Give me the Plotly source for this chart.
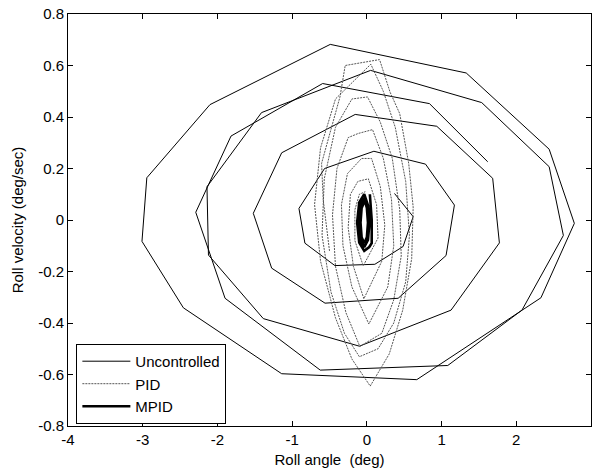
import plotly.graph_objects as go

# ---------------- data ----------------
# Uncontrolled: growing spiral from the centre, plus the outer orbit
unc_x = [0.37, 0.62, 0.485, 0.107, -0.428, -0.829, -0.909, -0.566, 0.094, 0.785,
         1.172, 1.06, 0.419, -0.56, -1.274, -1.52, -1.14, -0.156, 0.936, 1.684,
         1.774, 1.127, -0.1, -1.386, -2.12, -2.14, -1.41, 0.05, 1.537, 2.44,
         2.63, 2.076, 1.083, -0.624, -1.898, -2.29, -1.818, -0.592, 0.838, 1.618,
         None,
         -0.49, 1.33, 2.44, 2.777, 2.33, 0.668, -1.14, -2.456, -3.01, -2.945,
         -2.10, -0.49]
unc_y = [0.103, 0.013, -0.103, -0.172, -0.177, -0.09, 0.045, 0.200, 0.267, 0.217,
         0.058, -0.138, -0.304, -0.323, -0.187, 0.026, 0.261, 0.41, 0.364, 0.162,
         -0.089, -0.35, -0.49, -0.383, -0.136, 0.129, 0.417, 0.581, 0.456, 0.207,
         -0.06, -0.35, -0.565, -0.583, -0.304, 0.03, 0.326, 0.530, 0.452, 0.226,
         None,
         0.682, 0.571, 0.275, -0.013, -0.302, -0.62, -0.597, -0.341, -0.083, 0.164,
         0.448, 0.682]

# PID: narrow decaying spiral
pid_x = [-0.50, -0.584, -0.606, -0.36,
         -0.29, 0.17, 0.31, 0.44, 0.56, 0.62, 0.60, 0.48, 0.30, 0.045,
         -0.20, -0.42, -0.62, -0.70, -0.62, -0.42,
         0.053, 0.22, 0.38, 0.52, 0.57, 0.52, 0.36, 0.15, -0.10,
         -0.30, -0.48, -0.60, -0.57, -0.42, -0.20,
         0.009, 0.18, 0.34, 0.44, 0.46, 0.36, 0.20, -0.094,
         -0.28, -0.42, -0.46, -0.40, -0.25,
         -0.116, 0.076, 0.22, 0.33, 0.36, 0.28, 0.027,
         -0.20, -0.32, -0.34, -0.26,
         -0.071, 0.063, 0.18, 0.24, 0.20, -0.04,
         -0.18, -0.25, -0.22,
         -0.12, 0.02, 0.13, 0.15, -0.049, -0.16, -0.16, -0.10, -0.02]
pid_y = [-0.12, 0.078, 0.22, 0.478,
         0.600, 0.623, 0.497, 0.413, 0.22, 0.05, -0.15, -0.35, -0.52, -0.645,
         -0.54, -0.38, -0.16, 0.06, 0.28, 0.47,
         0.605, 0.50, 0.36, 0.15, -0.06, -0.24, -0.40, -0.50, -0.531,
         -0.44, -0.28, -0.06, 0.16, 0.36, 0.47,
         0.478, 0.38, 0.24, 0.04, -0.14, -0.31, -0.44, -0.491,
         -0.36, -0.18, 0.02, 0.20, 0.32,
         0.336, 0.351, 0.24, 0.08, -0.10, -0.26, -0.404,
         -0.26, -0.10, 0.06, 0.18,
         0.239, 0.239, 0.13, -0.02, -0.16, -0.306,
         -0.18, -0.03, 0.10,
         0.15, 0.16, 0.06, -0.07, -0.178, -0.08, 0.04, 0.10, 0.11]

# MPID: small tight orbit at the origin
mpid_x = [0.04, 0.065, 0.065, 0.032, -0.035, -0.102, -0.13, -0.102, -0.035,
          0.015, 0.035, 0.015, -0.035, -0.085, -0.105, -0.085, -0.035,
          0.0, 0.015, 0.0, -0.035, -0.07, -0.085, -0.07, -0.035]
mpid_y = [0.10, 0.0, -0.09, -0.105, -0.12, -0.088, -0.01, 0.068, 0.10,
          0.057, -0.01, -0.077, -0.105, -0.077, -0.01, 0.057, 0.085,
          0.047, -0.01, -0.067, -0.09, -0.067, -0.01, 0.047, 0.07]

x_ticks = [-4, -3, -2, -1, 0, 1, 2, 3]
x_tick_text = ["-4", "-3", "-2", "-1", "0", "1", "2", "3"]
y_ticks = [-0.8, -0.6, -0.4, -0.2, 0, 0.2, 0.4, 0.6, 0.8]
y_tick_text = ["-0.8", "-0.6", "-0.4", "-0.2", "0", "0.2", "0.4", "0.6", "0.8"]

FONT = "Liberation Sans, Arial, sans-serif"
FS = 15

fig = go.Figure()
fig.add_trace(go.Scatter(x=unc_x, y=unc_y, mode="lines", name="Uncontrolled",
                         line=dict(color="black", width=1), connectgaps=False))
fig.add_trace(go.Scatter(x=pid_x, y=pid_y, mode="lines", name="PID",
                         line=dict(color="#555555", width=1, dash="2px,1px")))
fig.add_trace(go.Scatter(x=mpid_x, y=mpid_y, mode="lines", name="MPID",
                         line=dict(color="black", width=2.6)))

axis_common = dict(showline=True, linecolor="black", linewidth=1, mirror="ticks",
                   ticks="inside", ticklen=5, tickcolor="black", showgrid=False,
                   zeroline=False, tickfont=dict(family=FONT, size=FS, color="black"))

fig.update_layout(
    width=593, height=473,
    margin=dict(l=68, r=2, t=14, b=47),
    paper_bgcolor="white", plot_bgcolor="white",
    font=dict(family=FONT, size=FS, color="black"),
    xaxis=dict(range=[-4, 3], tickvals=x_ticks, ticktext=x_tick_text,
               title=dict(text="Roll angle \u00a0(deg)", standoff=7,
                          font=dict(family=FONT, size=FS)), **axis_common),
    yaxis=dict(range=[-0.8, 0.8], tickvals=y_ticks, ticktext=y_tick_text,
               title=dict(text="Roll velocity (deg/sec)", standoff=10,
                          font=dict(family=FONT, size=FS)), **axis_common),
    legend=dict(x=0.016, y=0.005, xanchor="left", yanchor="bottom",
                bgcolor="white", bordercolor="black", borderwidth=1,
                font=dict(family=FONT, size=FS), tracegroupgap=0,
                itemwidth=48),
    showlegend=True,
)

fig.write_html("out.html")
